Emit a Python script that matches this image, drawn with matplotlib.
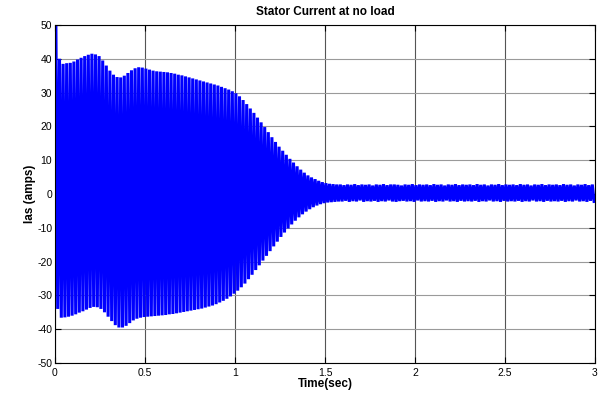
import numpy as np
import matplotlib
matplotlib.use("Agg")
import matplotlib.pyplot as plt

# ---- data ----
period = 0.02          # 50 Hz supply
# positive peak of every cycle (cycles 0..149)
upper_transient = [50, 40, 38.5, 38.7, 38.8, 39.2, 39.8, 40.3, 40.8, 41.2,
                   41.5, 41.3, 40.8, 39.5, 38.0, 36.5, 35.3, 34.6, 34.5, 35.0,
                   35.8, 36.6, 37.2, 37.5, 37.4, 37.1, 36.8, 36.5, 36.3, 36.2,
                   36.1, 36.0, 35.8, 35.6, 35.3, 35.1, 34.8, 34.5, 34.2, 33.9,
                   33.6, 33.3, 33.0, 32.7, 32.4, 32.1, 31.7, 31.3, 30.9, 30.4,
                   29.8, 28.9, 27.8, 26.6, 25.3, 24.0, 22.6, 21.2, 19.8, 18.3,
                   16.8, 15.4, 14.0, 12.8, 11.6, 10.4, 9.3, 8.2, 7.2, 6.3,
                   5.5, 4.9, 4.4, 3.9, 3.5, 3.2, 3.0, 2.9, 2.8]
upper_steady = [2.8, 2.6, 2.8, 2.7, 2.9, 2.6, 2.8, 2.7, 2.8, 2.5,
                2.8, 2.7, 2.9, 2.6, 2.8, 2.8, 2.7, 2.5, 2.8, 2.7,
                2.9, 2.6, 2.8, 2.7, 2.8, 2.6, 2.9, 2.7, 2.8, 2.5,
                2.8, 2.7, 2.9, 2.6, 2.8, 2.7, 2.8, 2.6, 2.9, 2.7,
                2.8, 2.5, 2.8, 2.7, 2.9, 2.6, 2.8, 2.7, 2.8, 2.6,
                2.9, 2.7, 2.8, 2.5, 2.8, 2.7, 2.9, 2.6, 2.8, 2.7,
                2.8, 2.6, 2.9, 2.7, 2.8, 2.5, 2.8, 2.7, 2.9, 2.6, 2.8]
# negative peak of every cycle
lower_transient = [-34, -36.6, -36.5, -36.3, -36.0, -35.6, -35.1, -34.7, -34.2, -33.7,
                   -33.4, -33.5, -34.0, -35.0, -36.3, -37.6, -38.8, -39.5, -39.5, -39.0,
                   -38.2, -37.4, -36.9, -36.6, -36.4, -36.3, -36.2, -36.1, -36.0, -35.9,
                   -35.8, -35.6, -35.5, -35.3, -35.1, -34.9, -34.7, -34.5, -34.3, -34.1,
                   -33.9, -33.6, -33.3, -33.0, -32.6, -32.1, -31.6, -31.0, -30.3, -29.5,
                   -28.6, -27.6, -26.5, -25.2, -23.9, -22.5, -21.1, -19.7, -18.3, -16.9,
                   -15.5, -14.1, -12.7, -11.4, -10.2, -9.0, -7.9, -6.9, -6.0, -5.2,
                   -4.5, -3.9, -3.4, -3.0, -2.7, -2.5, -2.4, -2.3, -2.2]
lower_steady = [-2.2, -2.0, -2.3, -2.1, -2.2, -1.9, -2.3, -2.1, -2.2, -2.0,
                -2.3, -2.1, -2.2, -1.9, -2.2, -2.3, -2.1, -2.0, -2.2, -2.1,
                -2.3, -1.9, -2.2, -2.1, -2.2, -2.0, -2.3, -2.1, -2.2, -1.9,
                -2.2, -2.1, -2.3, -2.0, -2.2, -2.1, -2.2, -2.0, -2.3, -2.1,
                -2.2, -1.9, -2.2, -2.1, -2.3, -2.0, -2.2, -2.1, -2.2, -2.0,
                -2.3, -2.1, -2.2, -1.9, -2.2, -2.1, -2.3, -2.0, -2.2, -2.1,
                -2.2, -2.0, -2.3, -2.1, -2.2, -1.9, -2.2, -2.1, -2.3, -2.0, -2.2]
x_ticks = [0, 0.5, 1, 1.5, 2, 2.5, 3]
x_tick_labels = ["0", "0.5", "1", "1.5", "2", "2.5", "3"]
y_ticks = list(range(-50, 51, 10))

upper = np.array(upper_transient + upper_steady)
lower = np.array(lower_transient + lower_steady)
k = np.arange(len(upper))
t_up = k * period + period / 4
t_lo = k * period + 3 * period / 4
t = np.empty(2 * len(k)); y = np.empty(2 * len(k))
t[0::2] = t_up; t[1::2] = t_lo
y[0::2] = upper; y[1::2] = lower

plt.rcParams['font.family'] = ['Liberation Sans', 'DejaVu Sans']
plt.rcParams['axes.unicode_minus'] = False

fig = plt.figure(figsize=(6.05, 3.96), dpi=100)
ax = fig.add_axes([55 / 605, 1 - 363 / 396, 540 / 605, 338 / 396])

ax.plot(t, y, color='#0000ff', lw=2.2, zorder=2, solid_joinstyle='bevel')

ax.set_xlim(0, 3)
ax.set_ylim(-50, 50)
ax.set_xticks(x_ticks)
ax.set_xticklabels(x_tick_labels)
ax.set_yticks(y_ticks)
ax.tick_params(direction='in', length=4, width=0.8, labelsize=7.5, top=True, right=True)
ax.tick_params(axis='x', pad=3.5)
ax.tick_params(axis='y', pad=2)
for s in ax.spines.values():
    s.set_linewidth(0.8)
ax.xaxis.grid(True, color='#555555', lw=0.8, zorder=0)
ax.yaxis.grid(True, color='#9a9a9a', lw=0.8, zorder=0)
ax.set_axisbelow(True)

ax.set_title("Stator Current at no load", fontsize=8.5, fontweight='bold', pad=7)
ax.set_xlabel("Time(sec)", fontsize=8.5, fontweight='bold', labelpad=0)
ax.set_ylabel("Ias (amps)", fontsize=8.5, fontweight='bold', labelpad=1)

fig.savefig("out.png", dpi=100)
